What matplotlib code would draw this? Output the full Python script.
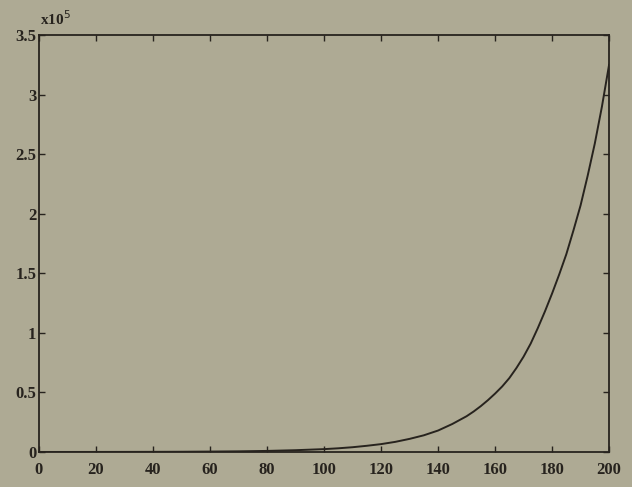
import matplotlib
matplotlib.use("Agg")
import numpy as np
import matplotlib.pyplot as plt

# values (y in absolute units, axis shown as x10^5)
x_vals = [0, 10, 20, 30, 40, 50, 60, 70, 80, 90, 100, 105, 110, 115, 120,
          125, 130, 135, 140, 145, 150, 152.5, 155, 157.5, 160, 162.5, 165,
          167.5, 170, 172.5, 175, 177.5, 180, 182.5, 185, 187.5, 190, 192.5,
          195, 197.5, 200]
y_vals = [20, 30, 50, 80, 130, 200, 350, 550, 900, 1500, 2400, 3100, 4000,
          5200, 6600, 8500, 11000, 14000, 18000, 23500, 30000, 34000, 38500,
          43500, 49000, 55000, 62000, 70500, 80000, 91000, 104000, 118000,
          133000, 149000, 166000, 186000, 207000, 232000, 259000, 290000,
          325000]

x_ticks = [0, 20, 40, 60, 80, 100, 120, 140, 160, 180, 200]
y_ticks = [0, 0.5, 1, 1.5, 2, 2.5, 3, 3.5]
y_tick_labels = ["0", "0.5", "1", "1.5", "2", "2.5", "3", "3.5"]

bg = "#aeaa94"
ink = "#27231e"

plt.rcParams["font.family"] = ["Liberation Serif", "DejaVu Serif"]

fig = plt.figure(figsize=(6.32, 4.87), dpi=100, facecolor=bg)
ax = fig.add_axes([0.0617, 0.0719, 0.902, 0.856], facecolor=bg)

ax.plot(x_vals, np.array(y_vals) / 1e5, color=ink, lw=1.4)

ax.set_xlim(0, 200)
ax.set_ylim(0, 3.5)
ax.set_xticks(x_ticks)
ax.set_yticks(y_ticks)
ax.set_yticklabels(y_tick_labels)
ax.tick_params(direction="in", length=4, width=1.0, colors=ink,
               top=True, right=True, labelsize=12)
ax.tick_params(axis="x", pad=7)
ax.tick_params(axis="y", pad=2)
for lbl in ax.get_xticklabels() + ax.get_yticklabels():
    lbl.set_fontweight("bold")
for s in ax.spines.values():
    s.set_color(ink)
    s.set_linewidth(1.3)

fig.text(0.063, 0.962, r"x10$^{5}$", fontsize=11, fontweight="bold",
         color=ink, ha="left", va="center")

fig.savefig("out.png", dpi=100, facecolor=bg)
